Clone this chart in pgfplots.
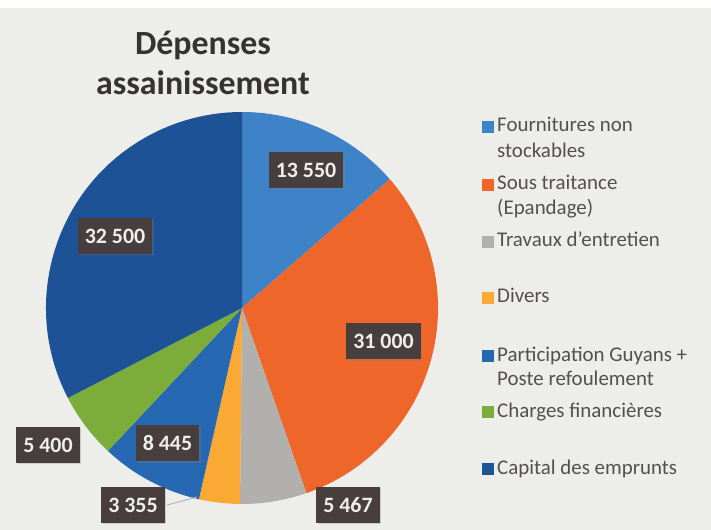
\documentclass[border=0pt]{standalone}
\usepackage{pgfplots}
\pgfplotsset{compat=1.18}
\usepackage{pgfplotstable}
\usetikzlibrary{shadows}
\usepackage{fontspec}
\setmainfont{Carlito}

\definecolor{pie0}{RGB}{62,131,200}
\definecolor{pie1}{RGB}{238,102,42}
\definecolor{pie2}{RGB}{178,176,173}
\definecolor{pie3}{RGB}{250,170,52}
\definecolor{pie4}{RGB}{38,104,178}
\definecolor{pie5}{RGB}{124,173,58}
\definecolor{pie6}{RGB}{30,82,150}
\definecolor{bgc}{RGB}{237,237,234}
\definecolor{lblbg}{RGB}{72,62,62}
\definecolor{lbltxt}{RGB}{238,238,238}
\definecolor{titlec}{RGB}{52,50,50}
\definecolor{legc}{RGB}{85,80,80}

\tikzset{
  lbl/.style={fill=lblbg,text=lbltxt,font=\bfseries\fontsize{22}{22}\selectfont,
    minimum height=36bp,inner xsep=7bp,inner ysep=0pt,
    drop shadow={opacity=0.3,shadow xshift=1.5bp,shadow yshift=-1.5bp}},
  leg/.style={anchor=base west,text=legc,font=\fontsize{21}{21}\selectfont,inner sep=0pt}}

\pgfplotstableread{
value
13550
31000
5467
3355
8445
5400
32500
}\piedata

\begin{document}
\begin{tikzpicture}
% cumulative angles, starting at 12 o'clock, clockwise
\xdef\pietotal{0}
\pgfplotstableforeachcolumnelement{value}\of\piedata\as\v{\xdef\pietotal{\fpeval{\pietotal+\v}}}
\xdef\cum{90}
\pgfplotstableforeachcolumnelement{value}\of\piedata\as\v{%
  \expandafter\xdef\csname sa\pgfplotstablerow\endcsname{\cum}%
  \xdef\cum{\fpeval{\cum-360*\v/\pietotal}}%
  \expandafter\xdef\csname ea\pgfplotstablerow\endcsname{\cum}}
\begin{axis}[width=711bp,height=530bp,scale only axis,hide axis,
  xmin=0,xmax=711,ymin=0,ymax=530,y dir=reverse,clip=false]
\fill[bgc] (axis cs:0,0) rectangle (axis cs:711,530);
\fill[white] (axis cs:0,0) rectangle (axis cs:711,8);
\pgfplotsinvokeforeach{0,...,6}{
  \fill[pie#1] (axis cs:242,308) -- ++(\csname sa#1\endcsname:196bp)
    arc[start angle=\csname sa#1\endcsname, end angle=\csname ea#1\endcsname, radius=196bp] -- cycle;
}
% title
\node[anchor=base,text=titlec,font=\bfseries\fontsize{34}{34}\selectfont] at (axis cs:203,55) {Dépenses};
\node[anchor=base,text=titlec,font=\bfseries\fontsize{34}{34}\selectfont] at (axis cs:203,95) {assainissement};
% leader line
\draw[gray!60,line width=0.9bp] (axis cs:167,505) -- (axis cs:197,497);
% data labels
\node[lbl] at (axis cs:306,170) {13 550};
\node[lbl] at (axis cs:383.5,341.5) {31 000};
\node[lbl] at (axis cs:348,505) {5 467};
\node[lbl] at (axis cs:133,505) {3 355};
\node[lbl] at (axis cs:167.5,443.5) {8 445};
\node[lbl] at (axis cs:48,445) {5 400};
\node[lbl] at (axis cs:115,236) {32 500};
% legend
\fill[pie0] (axis cs:482,121) rectangle (axis cs:494,133);
\node[leg] at (axis cs:497,132) {Fournitures non};
\node[leg] at (axis cs:497,158) {stockables};
\fill[pie1] (axis cs:482,179) rectangle (axis cs:494,191);
\node[leg] at (axis cs:497,190) {Sous traitance};
\node[leg] at (axis cs:497,215) {(Epandage)};
\fill[pie2] (axis cs:482,236) rectangle (axis cs:494,248);
\node[leg] at (axis cs:497,247) {Travaux d'entretien};
\fill[pie3] (axis cs:482,292) rectangle (axis cs:494,304);
\node[leg] at (axis cs:497,303) {Divers};
\fill[pie4] (axis cs:482,350) rectangle (axis cs:494,362);
\node[leg] at (axis cs:497,362) {Participation Guyans +};
\node[leg] at (axis cs:497,386) {Poste refoulement};
\fill[pie5] (axis cs:482,406) rectangle (axis cs:494,418);
\node[leg] at (axis cs:497,418) {Charges financières};
\fill[pie6] (axis cs:482,463) rectangle (axis cs:494,475);
\node[leg] at (axis cs:497,475) {Capital des emprunts};
\end{axis}
\end{tikzpicture}
\end{document}
